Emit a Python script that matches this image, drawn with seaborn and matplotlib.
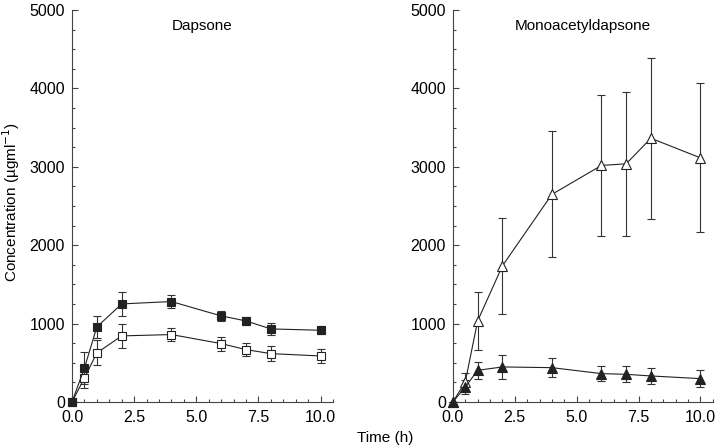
import numpy as np
import pandas as pd
import matplotlib
matplotlib.use("Agg")
import matplotlib.pyplot as plt
import seaborn as sns
from matplotlib.ticker import MultipleLocator

time = [0, 0.5, 1, 2, 4, 6, 7, 8, 10]

dap_filled = [0, 434, 957, 1251, 1281, 1098, 1034, 932, 915]
dap_filled_err = [0, 200, 140, 150, 80, 65, 50, 80, 50]
dap_open = [0, 306, 626, 843, 860, 745, 668, 617, 587]
dap_open_err = [0, 130, 160, 150, 80, 90, 85, 95, 90]

mad_open = [0, 255, 1034, 1736, 2648, 3017, 3038, 3364, 3114]
mad_open_err = [0, 120, 370, 615, 805, 900, 920, 1030, 950]
mad_filled = [0, 191, 404, 447, 438, 362, 353, 332, 298]
mad_filled_err = [0, 90, 110, 150, 120, 95, 100, 105, 105]

sns.set_theme(style="ticks")
plt.rcParams['font.family'] = ['Liberation Sans', 'DejaVu Sans']
plt.rcParams['font.size'] = 11

fig = plt.figure(figsize=(7.2, 4.48), dpi=100)
ax1 = fig.add_axes([0.1, 0.1027, 0.3625, 0.875])
ax2 = fig.add_axes([0.629, 0.1027, 0.361, 0.875])

lc = "#222222"

def draw(ax, y, err, marker, filled):
    df = pd.DataFrame({"t": time, "c": y})
    ax.errorbar(time, y, yerr=err, fmt="none", ecolor="#333333", elinewidth=0.8,
                capsize=3, capthick=0.8, zorder=2, clip_on=False)
    sns.lineplot(data=df, x="t", y="c", ax=ax, color=lc, linewidth=0.8,
                 marker=marker, markersize=6 if marker == "s" else 7,
                 markerfacecolor=lc if filled else "white",
                 markeredgecolor=lc, markeredgewidth=0.8, zorder=3, clip_on=False)

draw(ax1, dap_open, dap_open_err, "s", False)
draw(ax1, dap_filled, dap_filled_err, "s", True)
draw(ax2, mad_open, mad_open_err, "^", False)
draw(ax2, mad_filled, mad_filled_err, "^", True)

for ax, title in [(ax1, "Dapsone"), (ax2, "Monoacetyldapsone")]:
    ax.set_xlim(0, 10.5)
    ax.set_ylim(0, 5000)
    ax.set_xticks([0, 2.5, 5, 7.5, 10])
    ax.set_xticklabels(["0.0", "2.5", "5.0", "7.5", "10.0"])
    ax.set_yticks([0, 1000, 2000, 3000, 4000, 5000])
    ax.xaxis.set_minor_locator(MultipleLocator(0.5))
    ax.yaxis.set_minor_locator(MultipleLocator(250))
    ax.tick_params(which="both", direction="in", color="#444444", width=0.8,
                   labelcolor="black")
    ax.tick_params(which="major", length=4, labelsize=11.5)
    ax.tick_params(axis="x", which="major", pad=6)
    ax.tick_params(axis="y", which="major", pad=5)
    ax.tick_params(which="minor", length=2.5)
    for s in ["top", "right"]:
        ax.spines[s].set_visible(False)
    for s in ["left", "bottom"]:
        ax.spines[s].set_color("#444444")
        ax.spines[s].set_linewidth(0.8)
    ax.set_xlabel("")
    ax.set_ylabel("")
    ax.text(0.5, 0.96, title, transform=ax.transAxes, ha="center", va="center",
            fontsize=11, color="black")

fig.text(0.016, 0.55, "Concentration (µgml$^{-1}$)", rotation=90, ha="center",
         va="center", fontsize=11, color="black")
fig.text(0.535, 0.022, "Time (h)", ha="center", va="center", fontsize=11, color="black")

fig.savefig("out.png", dpi=100)
